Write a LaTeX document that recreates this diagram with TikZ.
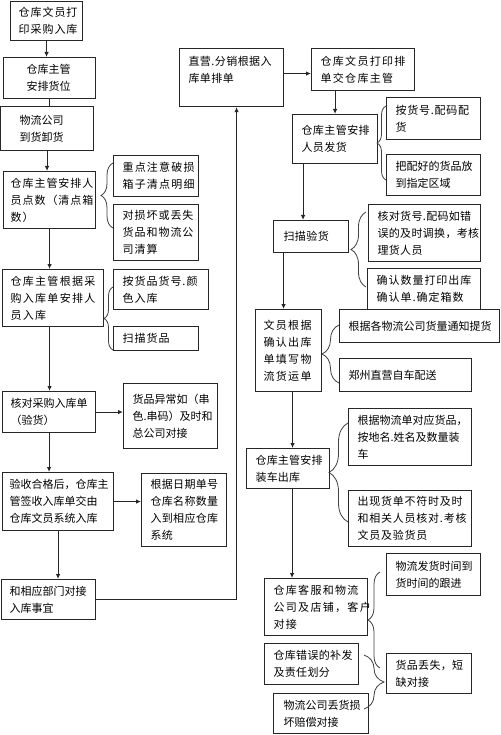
\documentclass[tikz,border=0pt]{standalone}
\usepackage{fontspec}
\newfontfamily\cjk{Noto Sans CJK SC}
\usetikzlibrary{arrows.meta,decorations.pathreplacing}
\tikzset{
  box/.style={draw=black!85, line width=1.1pt, fill=white, rectangle, inner ysep=0pt, align=left},
  ls/.style={font=\cjk\fontsize{11pt}{17pt}\selectfont\addfontfeature{LetterSpace=#1}},
  arr/.style={draw=black!85, line width=1pt, -{Latex[length=5pt,width=4.5pt]}},
  ln/.style={draw=black!85, line width=1pt},
  brc/.style={draw=black!75, line width=0.8pt, decorate, decoration={brace, amplitude=#1}}
}
\newcommand\bx[8]{\node[box, ls=#7, anchor=north west, minimum width=#4pt, minimum height=#5pt, inner xsep=#6pt, text width={(#4-2*#6)*1pt}] (#1) at (#2,#3) {#8};}
\begin{document}
\begin{tikzpicture}[x=1pt,y=-1pt]
\fill[white] (0,0) rectangle (500,735);
\useasboundingbox (0,0) rectangle (500,735);
% left column
\bx{A}{10}{1}{72}{39}{8}{9}{仓库文员打\\印采购入库}
\bx{B}{3}{57}{92}{41}{23}{0}{仓库主管\\安排货位}
\bx{C}{0}{106}{93}{44}{19}{0}{物流公司\\到货卸货}
\bx{D}{3}{171}{92}{57}{7}{9}{仓库主管安排人\\员点数（清点箱\\数）}
\bx{E1}{113}{155}{85}{41}{9}{11}{重点注意破损\\箱子清点明细}
\bx{E2}{113}{204}{85}{56}{9}{9}{对损坏或丢失\\货品和物流公\\司清算}
\bx{F}{2}{269}{101}{57}{8}{12}{仓库主管根据采\\购入库单安排人\\员入库}
\bx{G1}{113}{269}{95}{40}{9}{9}{按货品货号.颜\\色入库}
\bx{G2}{113}{326}{85}{24}{9}{9}{扫描货品}
\bx{H}{2}{391}{93}{41}{8}{0}{核对采购入库单\\（验货）}
\bx{I}{123}{383}{94}{65}{9}{0}{货品异常如（串\\色.串码）及时和\\总公司对接}
\bx{J}{2}{472}{111}{58}{7}{0}{验收合格后，仓库主\\管签收入库单交由\\仓库文员系统入库}
\bx{K}{141}{473}{85}{73}{9}{3}{根据日期单号\\仓库名称数量\\入到相应仓库\\系统}
\bx{L}{1}{579}{94}{40}{8}{0}{和相应部门对接\\入库事宜}
% right column
\bx{M}{179}{48}{104}{58}{9}{4}{直营.分销根据入\\库单排单\\\mbox{}}
\bx{N}{311}{48}{103}{42}{9}{12}{仓库文员打印排\\单交仓库主管}
\bx{O}{292}{114}{85}{49}{9}{4}{仓库主管安排\\人员发货}
\bx{P1}{386}{97}{94}{42}{9}{7}{按货号.配码配\\货}
\bx{P2}{386}{154}{94}{41}{9}{0}{把配好的货品放\\到指定区域}
\bx{Q}{273}{220}{75}{32}{10}{4}{扫描验货}
\bx{R1}{368}{204}{112}{57}{9}{3}{核对货号.配码如错\\误的及时调换，考核\\理货人员}
\bx{R2}{367}{268}{113}{41}{9}{9}{确认数量打印出库\\确认单.确定箱数}
\bx{S1}{339}{309}{160}{33}{9}{0}{根据各物流公司货量通知提货}
\bx{S2}{339}{358}{132}{33}{9}{0}{郑州直营自车配送}
\bx{T}{255}{309}{66}{82}{8}{12}{文员根据\\确认出库\\单填写物\\流货运单}
\bx{U}{246}{448}{83}{40}{9}{2}{仓库主管安排\\装车出库}
\bx{V1}{348}{408}{123}{57}{9}{0}{根据物流单对应货品，\\按地名.姓名及数量装\\车}
\bx{V2}{348}{490}{123}{56}{9}{7}{出现货单不符时及时\\和相关人员核对.考核\\文员及验货员}
\bx{W}{264}{578}{103}{57}{9}{12}{仓库客服和物流\\公司及店铺，客户\\对接}
\bx{X1}{386}{553}{94}{42}{9}{0}{物流发货时间到\\货时间的跟进}
\bx{X2}{386}{653}{85}{40}{9}{3}{货品丢失，短\\缺对接}
\bx{Y}{264}{643}{94}{41}{9}{3}{仓库错误的补发\\及责任划分}
\bx{Z}{273}{693}{95}{40}{10}{0}{物流公司丢货损\\坏赔偿对接}
% connectors left
\draw[arr] (A.south) -- (A.south |- B.north);
\draw[ln] (B.south) -- (B.south |- C.north);
\draw[arr] (C.south) -- (C.south |- D.north);
\draw[arr] (D.south) -- (D.south |- F.north);
\draw[arr] (F.south -| D.south) -- (D.south |- H.north);
\draw[arr] (H.south) -- (H.south |- J.north);
\draw[arr] (H.east) -- (H.east -| I.west);
\draw[arr] (J.east) -- (J.east -| K.west);
\draw[arr] (J.south) -- (J.south |- L.north);
\draw[arr] (L.east) -| ([xshift=5pt]M.south);
% connectors right
\draw[arr] ([yshift=4pt]M.east) -- ([yshift=4pt]M.east -| N.west);
\draw[arr] (O.north |- N.south) -- (O.north);
\draw[arr] ([xshift=-8pt]Q.north |- O.south) -- ([xshift=-8pt]Q.north);
\draw[arr] ([xshift=-5pt]T.north |- Q.south) -- ([xshift=-5pt]T.north);
\draw[arr] ([xshift=4pt]T.south) -- ([xshift=4pt]T.south |- U.north);
\draw[arr] ([xshift=4pt]U.south) -- ([xshift=4pt]U.south |- W.north);
% braces
\coordinate (b1s) at (113,228); \coordinate (b1e) at (113,163);
\draw[brc=12pt] (b1s) -- (b1e);
\coordinate (b2s) at (113,350); \coordinate (b2e) at (113,287);
\draw[brc=9pt] (b2s) -- (b2e);
\coordinate (b3s) at (386,180); \coordinate (b3e) at (386,106);
\draw[brc=9pt] (b3s) -- (b3e);
\coordinate (b4s) at (366,287); \coordinate (b4e) at (366,212);
\draw[brc=15pt] (b4s) -- (b4e);
\coordinate (b5s) at (339,383); \coordinate (b5e) at (339,325);
\draw[brc=17pt] (b5s) -- (b5e);
\coordinate (b6s) at (348,522); \coordinate (b6e) at (348,423);
\draw[brc=19pt] (b6s) -- (b6e);
\coordinate (b7s) at (380,668); \coordinate (b7e) at (380,572);
\draw[brc=12pt] (b7s) -- (b7e);
\coordinate (b8s) at (364,655); \coordinate (b8e) at (364,709);
\draw[brc=20pt] (b8s) -- (b8e);
\end{tikzpicture}
\end{document}
